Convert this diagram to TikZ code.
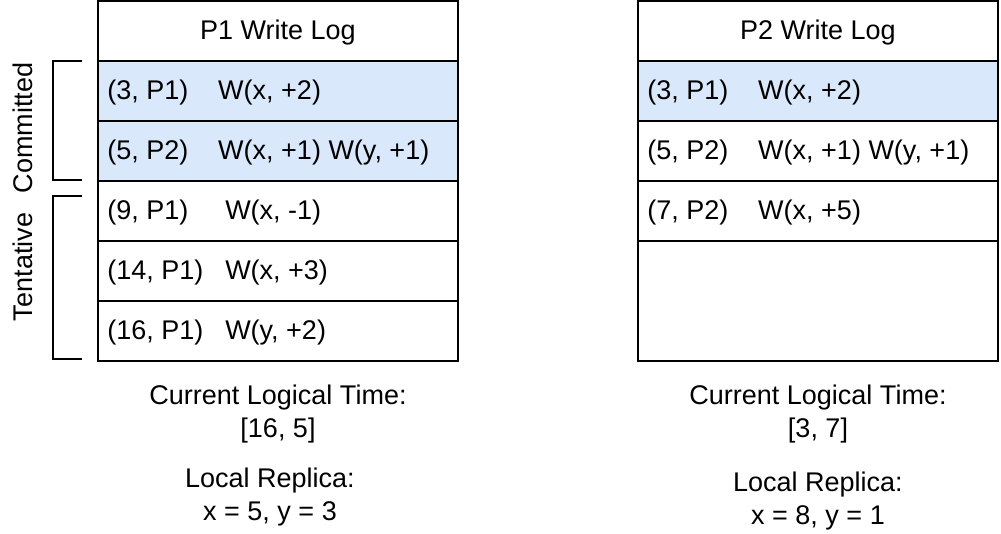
\documentclass[tikz,border=0pt]{standalone}
\usepackage{fontspec}
\setmainfont{Liberation Sans}
\definecolor{cblue}{HTML}{DAE8FC}
\begin{document}
\begin{tikzpicture}[x=0.75pt,y=-0.75pt,
  every node/.style={font=\fontsize{20.25pt}{24pt}\selectfont, inner sep=0pt, yshift=-1.5pt},
  cell/.style={draw=black, line width=1pt},
  blue/.style={cell, fill=cblue},
  rowtext/.style={anchor=west},
  brk/.style={draw=black, line width=0.8pt},
  side/.style={rotate=90, anchor=center}]
\useasboundingbox (0,0) rectangle (1001,534);
% P1 log
\draw[cell] (98,1) rectangle (458,61);
\node (h1) at (278,31) {P1 Write Log};
\draw[blue] (98,61) rectangle (458,121);
\draw[blue] (98,121) rectangle (458,181);
\draw[cell] (98,181) rectangle (458,241);
\draw[cell] (98,241) rectangle (458,301);
\draw[cell] (98,301) rectangle (458,361);
\node[rowtext] (a1) at (107,91) {\makebox[83.25pt][l]{(3, P1)}W(x, +2)};
\node[rowtext] (a2) at (107,151) {\makebox[83.25pt][l]{(5, P2)}W(x, +1) W(y, +1)};
\node[rowtext] (a3) at (107,211) {\makebox[88.5pt][l]{(9, P1)}W(x, -1)};
\node[rowtext] (a4) at (107,271) {\makebox[88.5pt][l]{(14, P1)}W(x, +3)};
\node[rowtext] (a5) at (107,331) {\makebox[88.5pt][l]{(16, P1)}W(y, +2)};
% brackets
\draw[brk] (82,61) -- (53,61) -- (53,180) -- (82,180);
\draw[brk] (82,196) -- (53,196) -- (53,359) -- (82,359);
\node[side] (lc) at (22.5,126) {Committed};
\node[side] (lt) at (22.5,265) {Tentative};
% P2 log
\draw[cell] (638,1) rectangle (998,61);
\node (h2) at (818,31) {P2 Write Log};
\draw[blue] (638,61) rectangle (998,121);
\draw[cell] (638,121) rectangle (998,181);
\draw[cell] (638,181) rectangle (998,241);
\draw[cell] (638,241) rectangle (998,361);
\node[rowtext] (b1) at (647,91) {\makebox[83.25pt][l]{(3, P1)}W(x, +2)};
\node[rowtext] (b2) at (647,151) {\makebox[83.25pt][l]{(5, P2)}W(x, +1) W(y, +1)};
\node[rowtext] (b3) at (647,211) {\makebox[83.25pt][l]{(7, P2)}W(x, +5)};
% bottom texts
\node (t1) at (278,396) {Current Logical Time:};
\node (t1v) at (278,429) {[16, 5]};
\node (r1) at (270,479) {Local Replica:};
\node (r1v) at (270,512) {x = 5, y = 3};
\node (t2) at (818,396) {Current Logical Time:};
\node (t2v) at (818,429) {[3, 7]};
\node (r2) at (818,483) {Local Replica:};
\node (r2v) at (818,516) {x = 8, y = 1};
\end{tikzpicture}
\end{document}
